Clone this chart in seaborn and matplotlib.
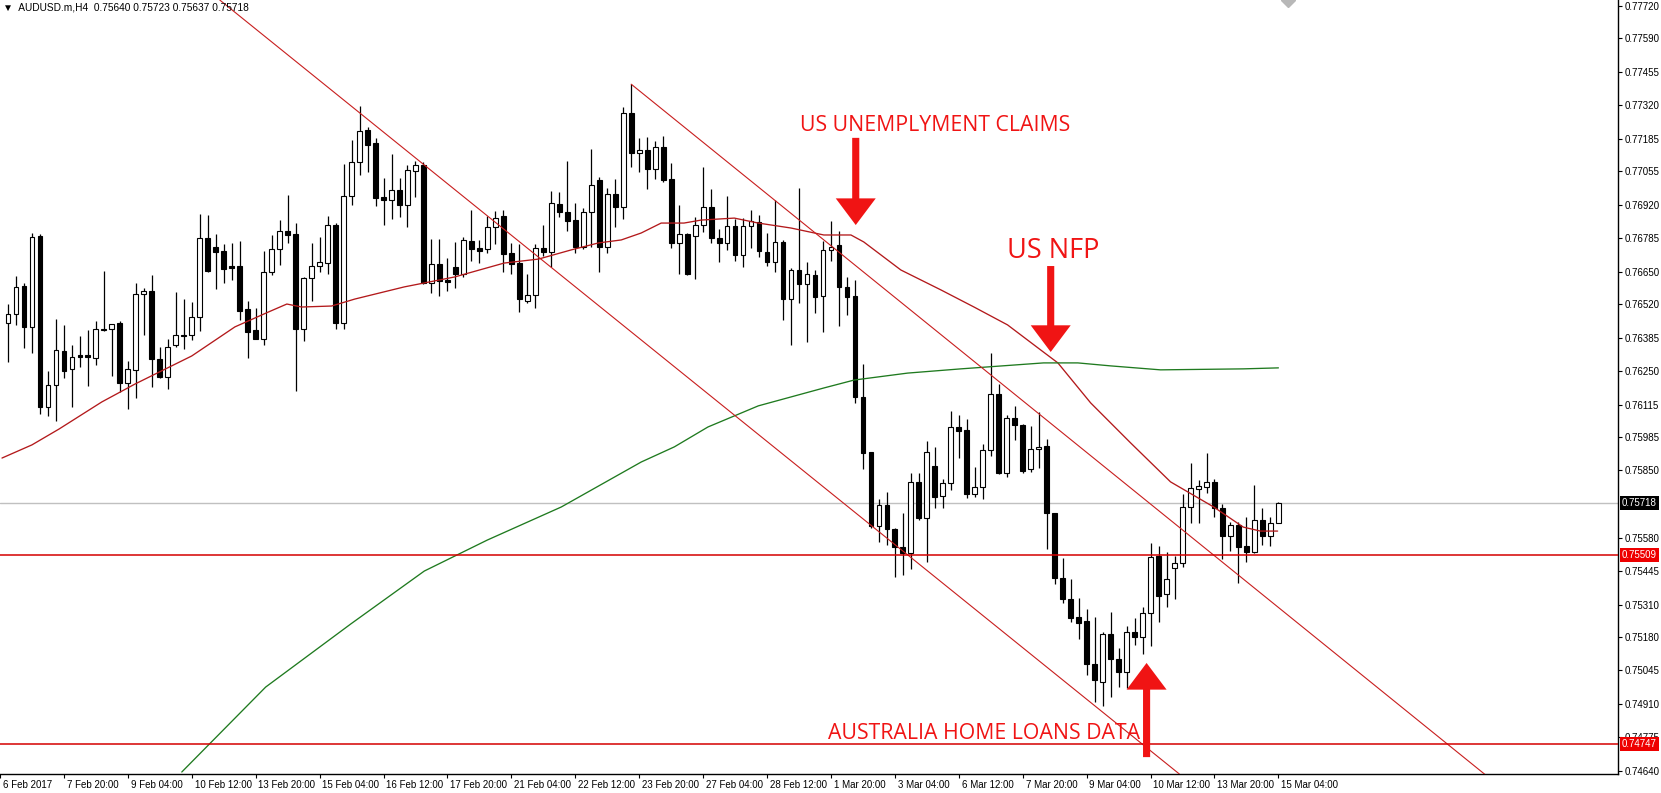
import numpy as np
import pandas as pd
import seaborn as sns
import matplotlib.pyplot as plt
from matplotlib import transforms

# AUDUSD.m H4 candles (index 0 = first full candle on the left)
opens = [0.76442, 0.76479, 0.76593, 0.76426, 0.76794, 0.76104, 0.76193, 0.76331, 0.76257, 0.76315,
         0.76314, 0.76302, 0.76416, 0.76418, 0.76445, 0.76204, 0.76253, 0.76559, 0.76573, 0.76297,
         0.76228, 0.76354, 0.76394, 0.76394, 0.76469, 0.76785, 0.76750, 0.76734, 0.76673, 0.76673,
         0.76499, 0.76416, 0.76378, 0.76648, 0.76740, 0.76813, 0.76802, 0.76418, 0.76624, 0.76672,
         0.76687, 0.76838, 0.76445, 0.76956, 0.77091, 0.77219, 0.77168, 0.76951, 0.76938, 0.76978,
         0.76917, 0.77056, 0.77080, 0.76606, 0.76681, 0.76617, 0.76668, 0.76640, 0.76773, 0.76744,
         0.76740, 0.76829, 0.76875, 0.76725, 0.76687, 0.76534, 0.76558, 0.76744, 0.76731, 0.76922,
         0.76892, 0.76857, 0.76751, 0.76889, 0.77019, 0.76748, 0.76962, 0.76912, 0.77288, 0.77127,
         0.77139, 0.77062, 0.77151, 0.77022, 0.76764, 0.76802, 0.76794, 0.76838, 0.76909, 0.76785,
         0.76764, 0.76834, 0.76718, 0.76834, 0.76852, 0.76731, 0.76691, 0.76771, 0.76539, 0.76657,
         0.76599, 0.76637, 0.76553, 0.76738, 0.76758, 0.76590, 0.76552, 0.76145, 0.75923, 0.75627,
         0.75711, 0.75613, 0.75543, 0.75516, 0.75805, 0.75657, 0.75868, 0.75747, 0.75801, 0.76026,
         0.76013, 0.75754, 0.75782, 0.75932, 0.76158, 0.75841, 0.76061, 0.76034, 0.75855, 0.75935,
         0.75949, 0.75678, 0.75416, 0.75331, 0.75261, 0.75244, 0.75071, 0.75000, 0.75192, 0.75091,
         0.75037, 0.75198, 0.75178, 0.75278, 0.75506, 0.75353, 0.75456, 0.75476, 0.75702, 0.75775,
         0.75785, 0.75805, 0.75698, 0.75587, 0.75631, 0.75544, 0.75521, 0.75651, 0.75587, 0.75640]
highs = [0.76520, 0.76633, 0.76606, 0.76807, 0.76802, 0.76250, 0.76459, 0.76436, 0.76355, 0.76391,
         0.76416, 0.76452, 0.76653, 0.76440, 0.76452, 0.76292, 0.76606, 0.76583, 0.76637, 0.76346,
         0.76378, 0.76569, 0.76540, 0.76527, 0.76883, 0.76877, 0.76801, 0.76763, 0.76765, 0.76774,
         0.76531, 0.76503, 0.76734, 0.76797, 0.76857, 0.76958, 0.76848, 0.76630, 0.76765, 0.76789,
         0.76875, 0.76845, 0.77084, 0.77181, 0.77317, 0.77234, 0.77190, 0.77029, 0.77124, 0.77029,
         0.77080, 0.77096, 0.77093, 0.76781, 0.76781, 0.76707, 0.76770, 0.76789, 0.76899, 0.76778,
         0.76876, 0.76896, 0.76899, 0.76764, 0.76760, 0.76641, 0.76762, 0.76838, 0.76975, 0.76972,
         0.77096, 0.76926, 0.76908, 0.77143, 0.77030, 0.76986, 0.77022, 0.77313, 0.77405, 0.77187,
         0.77194, 0.77178, 0.77197, 0.77087, 0.76919, 0.76805, 0.76872, 0.77070, 0.76982, 0.76821,
         0.76955, 0.76861, 0.76865, 0.76899, 0.76879, 0.76805, 0.76939, 0.76778, 0.76664, 0.76989,
         0.76689, 0.76657, 0.76775, 0.76854, 0.76815, 0.76630, 0.76617, 0.76279, 0.75925, 0.75734,
         0.75765, 0.75620, 0.75678, 0.75839, 0.75839, 0.75970, 0.75946, 0.75814, 0.76091, 0.76073,
         0.76056, 0.75865, 0.75957, 0.76324, 0.76198, 0.76073, 0.76110, 0.76036, 0.76029, 0.76087,
         0.75977, 0.75680, 0.75499, 0.75415, 0.75335, 0.75291, 0.75261, 0.75201, 0.75279, 0.75137,
         0.75224, 0.75257, 0.75302, 0.75559, 0.75546, 0.75523, 0.75506, 0.75754, 0.75879, 0.75812,
         0.75922, 0.75814, 0.75714, 0.75644, 0.75644, 0.75664, 0.75792, 0.75698, 0.75664, 0.75723]
lows = [0.76288, 0.76436, 0.76345, 0.76322, 0.76076, 0.76071, 0.76051, 0.76221, 0.76107, 0.76268,
        0.76190, 0.76275, 0.76411, 0.76230, 0.76167, 0.76096, 0.76143, 0.76395, 0.76185, 0.76221,
        0.76177, 0.76349, 0.76340, 0.76375, 0.76413, 0.76650, 0.76579, 0.76603, 0.76617, 0.76456,
        0.76302, 0.76378, 0.76354, 0.76636, 0.76679, 0.76765, 0.76171, 0.76373, 0.76534, 0.76650,
        0.76641, 0.76418, 0.76418, 0.76920, 0.77040, 0.77053, 0.76915, 0.76838, 0.76864, 0.76872,
        0.76832, 0.76952, 0.76600, 0.76566, 0.76552, 0.76574, 0.76586, 0.76628, 0.76695, 0.76687,
        0.76724, 0.76762, 0.76650, 0.76641, 0.76489, 0.76526, 0.76506, 0.76714, 0.76668, 0.76872,
        0.76815, 0.76724, 0.76740, 0.76751, 0.76648, 0.76727, 0.76832, 0.76861, 0.77073, 0.77050,
        0.76982, 0.77022, 0.77013, 0.76744, 0.76641, 0.76638, 0.76620, 0.76811, 0.76764, 0.76691,
        0.76738, 0.76695, 0.76671, 0.76744, 0.76711, 0.76673, 0.76650, 0.76456, 0.76355, 0.76523,
        0.76369, 0.76483, 0.76409, 0.76695, 0.76432, 0.76476, 0.76123, 0.75855, 0.75617, 0.75563,
        0.75550, 0.75423, 0.75429, 0.75452, 0.75650, 0.75483, 0.75698, 0.75698, 0.75771, 0.75900,
        0.75738, 0.75745, 0.75734, 0.75910, 0.75835, 0.75825, 0.75973, 0.75841, 0.75845, 0.75861,
        0.75533, 0.75392, 0.75318, 0.75241, 0.75170, 0.75027, 0.74919, 0.74903, 0.74939, 0.74980,
        0.74973, 0.75147, 0.75110, 0.75145, 0.75241, 0.75302, 0.75331, 0.75463, 0.75637, 0.75640,
        0.75761, 0.75664, 0.75492, 0.75527, 0.75396, 0.75483, 0.75517, 0.75550, 0.75544, 0.75637]
closes = [0.76480, 0.76587, 0.76429, 0.76789, 0.76104, 0.76193, 0.76335, 0.76252, 0.76306, 0.76308,
          0.76306, 0.76418, 0.76418, 0.76438, 0.76204, 0.76257, 0.76559, 0.76571, 0.76297, 0.76225,
          0.76349, 0.76394, 0.76393, 0.76469, 0.76785, 0.76655, 0.76731, 0.76662, 0.76667, 0.76493,
          0.76409, 0.76381, 0.76648, 0.76740, 0.76813, 0.76798, 0.76418, 0.76624, 0.76672, 0.76688,
          0.76838, 0.76445, 0.76955, 0.77091, 0.77217, 0.77162, 0.76948, 0.76938, 0.76978, 0.76920,
          0.77060, 0.77079, 0.76606, 0.76681, 0.76614, 0.76610, 0.76640, 0.76777, 0.76743, 0.76735,
          0.76829, 0.76866, 0.76723, 0.76681, 0.76539, 0.76558, 0.76744, 0.76731, 0.76926, 0.76892,
          0.76856, 0.76751, 0.76889, 0.76998, 0.76748, 0.76962, 0.76912, 0.77288, 0.77127, 0.77139,
          0.77062, 0.77151, 0.77019, 0.76764, 0.76802, 0.76641, 0.76838, 0.76909, 0.76785, 0.76764,
          0.76834, 0.76718, 0.76834, 0.76856, 0.76735, 0.76691, 0.76771, 0.76539, 0.76657, 0.76599,
          0.76640, 0.76550, 0.76738, 0.76751, 0.76590, 0.76550, 0.76147, 0.75922, 0.75627, 0.75711,
          0.75613, 0.75543, 0.75516, 0.75805, 0.75657, 0.75926, 0.75742, 0.75801, 0.76026, 0.76010,
          0.75754, 0.75785, 0.75932, 0.76158, 0.75841, 0.76061, 0.76032, 0.75849, 0.75937, 0.75943,
          0.75678, 0.75416, 0.75331, 0.75255, 0.75237, 0.75071, 0.75007, 0.75192, 0.75090, 0.75037,
          0.75198, 0.75178, 0.75278, 0.75500, 0.75346, 0.75412, 0.75476, 0.75702, 0.75778, 0.75789,
          0.75805, 0.75698, 0.75588, 0.75631, 0.75541, 0.75523, 0.75651, 0.75588, 0.75640, 0.75718]

# moving averages (candle position, price)
red_ma_x = [-0.75, 3, 6.4, 11.75, 15.9, 23, 28.4, 32.6, 34.9, 36.75, 40.5, 43.4, 49.6, 55.9,
            62.1, 66.4, 70.5, 73.9, 76.75, 79.25, 81.75, 84.6, 86.75, 90.9, 93.9, 98, 102.1,
            105.5, 107.1, 111.75, 116.75, 120.9, 125.1, 129.25, 131.4, 135.5, 140.5, 145.5,
            150.9, 154.6, 156.75, 158.9]
red_ma_y = [0.75900, 0.75953, 0.76017, 0.76126, 0.76198, 0.76311, 0.76428, 0.76488, 0.76520,
            0.76508, 0.76512, 0.76540, 0.76589, 0.76629, 0.76685, 0.76701, 0.76738, 0.76766,
            0.76778, 0.76806, 0.76846, 0.76846, 0.76858, 0.76866, 0.76846, 0.76826, 0.76798,
            0.76798, 0.76770, 0.76657, 0.76577, 0.76508, 0.76436, 0.76335, 0.76283, 0.76122,
            0.75961, 0.75804, 0.75703, 0.75622, 0.75606, 0.75606]
green_ma_x = [21.75, 32.25, 42.9, 52.1, 60, 69.25, 79.25, 83.4, 87.6, 93.9, 98, 102.1, 105.9,
              112.6, 119.25, 129.6, 133.9, 138, 144.25, 154.6, 159]
green_ma_y = [0.74636, 0.74978, 0.75232, 0.75445, 0.75570, 0.75703, 0.75884, 0.75945, 0.76025,
              0.76110, 0.76146, 0.76182, 0.76214, 0.76242, 0.76259, 0.76283, 0.76283, 0.76271,
              0.76255, 0.76259, 0.76263]

# trend line anchors (candle position, price)
trend_a = [(26.5, 0.77744), (146.6, 0.74628)]
trend_b = [(78, 0.77405), (156.75, 0.75357)]

levels = [0.75509, 0.74747]
last_price = 0.75718

ytick_vals = [0.77720, 0.77590, 0.77455, 0.77320, 0.77185, 0.77055, 0.76920, 0.76785, 0.76650,
              0.76520, 0.76385, 0.76250, 0.76115, 0.75985, 0.75850, 0.75580, 0.75445, 0.75310,
              0.75180, 0.75045, 0.74910, 0.74775, 0.74640]
xtick_labels = ["6 Feb 2017", "7 Feb 20:00", "9 Feb 04:00", "10 Feb 12:00", "13 Feb 20:00",
                "15 Feb 04:00", "16 Feb 12:00", "17 Feb 20:00", "21 Feb 04:00", "22 Feb 12:00",
                "23 Feb 20:00", "27 Feb 04:00", "28 Feb 12:00", "1 Mar 20:00", "3 Mar 04:00",
                "6 Mar 12:00", "7 Mar 20:00", "9 Mar 04:00", "10 Mar 12:00", "13 Mar 20:00",
                "15 Mar 04:00"]

sns.set_theme(style="white")
plt.rcParams['font.family'] = ['Liberation Sans', 'DejaVu Sans']

RED = '#f01414'

fig = plt.figure(figsize=(16.61, 7.93), dpi=100)
ax = fig.add_axes([0, 19 / 793, 1618 / 1661, 774 / 793])
ax.set_facecolor('white')

df = pd.DataFrame({'open': opens, 'high': highs, 'low': lows, 'close': closes})
df['i'] = np.arange(len(df))
up = df['close'] >= df['open']

# current price line
ax.axhline(last_price, color='#c0c0c0', lw=1, zorder=1)

# candles
ax.vlines(df['i'], df['low'], df['high'], color='black', lw=0.9, zorder=2)
ax.bar(df['i'], (df['close'] - df['open']).abs(), bottom=df[['open', 'close']].min(axis=1),
       width=0.6, color=np.where(up, 'white', 'black'), edgecolor='black', linewidth=0.8, zorder=3)

# moving averages
sns.lineplot(x=red_ma_x, y=red_ma_y, ax=ax, color='#b3191b', lw=0.95, zorder=4, sort=False)
sns.lineplot(x=green_ma_x, y=green_ma_y, ax=ax, color='#1f7a1f', lw=0.95, zorder=4, sort=False)

# trend lines
ax.axline(trend_a[0], trend_a[1], color='#c81e1e', lw=0.8, zorder=4)
(bx0, by0), (bx1, by1) = trend_b
slope = (by1 - by0) / (bx1 - bx0)
ax.plot([bx0, 205], [by0, by0 + slope * (205 - bx0)], color='#c81e1e', lw=0.8, zorder=4)

for lv in levels:
    ax.axhline(lv, color='#d40000', lw=1.1, zorder=4)

ax.plot([160.25], [0.77744], marker='D', color='#b8b8b8', ms=7, zorder=5)

ax.set_xlim(-0.75, 201.5)
ax.set_ylim(0.74628, 0.77744)

# axes styling (MT4 look)
for s in ['top', 'left']:
    ax.spines[s].set_visible(False)
for s in ['right', 'bottom']:
    ax.spines[s].set_color('black')
    ax.spines[s].set_linewidth(1)

ax.yaxis.tick_right()
ax.set_yticks(ytick_vals)
ax.set_yticklabels([f"{v:.5f}" for v in ytick_vals])
ax.set_xticks(np.arange(-1, 160, 8))
ax.set_xticklabels(xtick_labels, ha='left')
ax.tick_params(axis='both', labelsize=7, length=3, width=0.8, color='black', pad=2,
               labelcolor='black', direction='out')
ax.tick_params(axis='y', right=True, left=False)
ax.tick_params(axis='x', bottom=True, pad=1)
offset = transforms.ScaledTranslation(2 / 72, 0, fig.dpi_scale_trans)
for lab in ax.get_xticklabels():
    lab.set_transform(lab.get_transform() + offset)
ax.set_xlabel('')
ax.set_ylabel('')

# price boxes on the scale
ytr = ax.get_yaxis_transform()
for val, bg in [(last_price, 'black'), (levels[0], '#ee0000'), (levels[1], '#ee0000')]:
    ax.text(1.0025, val, f"{val:.5f}", transform=ytr, ha='left', va='center', fontsize=7,
            color='white', zorder=10, clip_on=False,
            bbox=dict(boxstyle='square,pad=0.2', fc=bg, ec='none'))

# header
fig.text(3 / 1661, 1 - 7 / 793, "\u25bc  AUDUSD.m,H4  0.75640 0.75723 0.75637 0.75718",
         fontsize=7.3, va='center', ha='left', color='black')

# event annotations
arrow_style = "simple,head_length=1.2,head_width=1.8,tail_width=0.32"
for tip, tail in [((106.1, 0.76838), (106.1, 0.77189)),
                  ((130.5, 0.76327), (130.5, 0.76673)),
                  ((142.5, 0.75075), (142.5, 0.74696))]:
    ax.annotate("", xy=tip, xytext=tail,
                arrowprops=dict(arrowstyle=arrow_style, fc=RED, ec='none',
                                mutation_scale=16, shrinkA=0, shrinkB=0), zorder=6)

ax.text(99.1, 0.77218, "US UNEMPLYMENT CLAIMS", color=RED, fontsize=15.3,
        family='Open Sans', ha='left', va='baseline', zorder=6)
ax.text(125.0, 0.76705, "US NFP", color=RED, fontsize=19.5,
        family='Open Sans', ha='left', va='baseline', zorder=6)
ax.text(102.6, 0.74770, "AUSTRALIA HOME LOANS DATA", color=RED, fontsize=15.3,
        family='Open Sans', ha='left', va='baseline', zorder=6)

fig.savefig('out.png', dpi=100)
